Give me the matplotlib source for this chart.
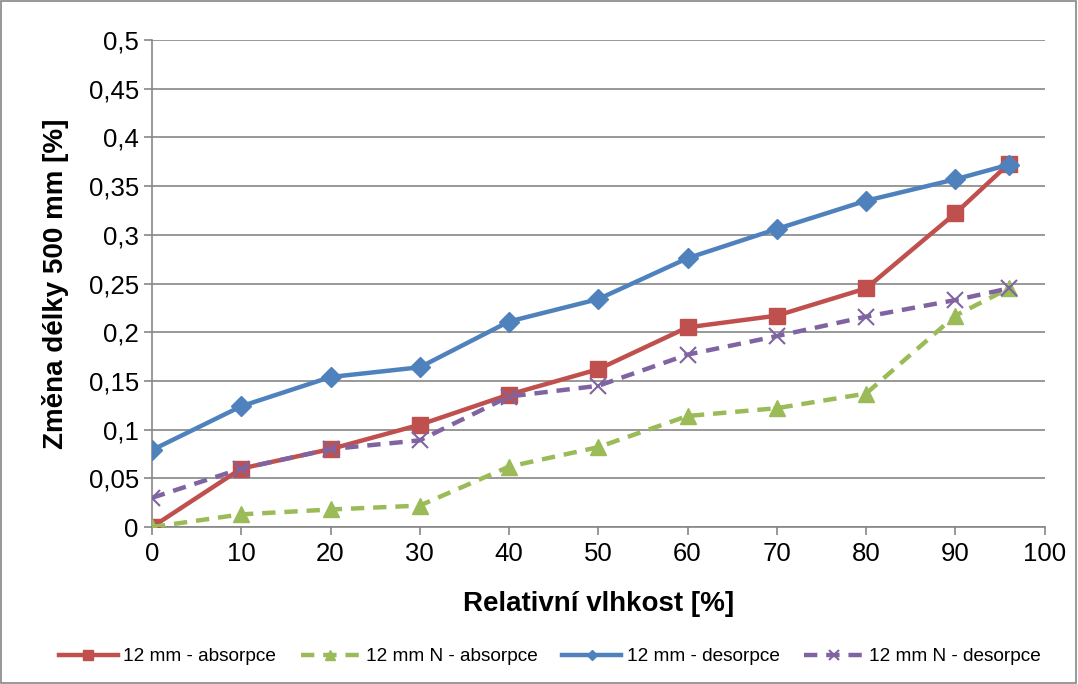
import numpy as np
import matplotlib
matplotlib.use("Agg")
import matplotlib.pyplot as plt
from matplotlib.ticker import FuncFormatter

plt.rcParams['font.family'] = ['Liberation Sans', 'DejaVu Sans']

rh = [0, 10, 20, 30, 40, 50, 60, 70, 80, 90, 96]
abs_12 = [0.0, 0.06, 0.080, 0.105, 0.136, 0.162, 0.205, 0.217, 0.245, 0.322, 0.373]
abs_12n = [0.0, 0.013, 0.018, 0.022, 0.062, 0.082, 0.114, 0.122, 0.137, 0.217, 0.245]
des_12 = [0.079, 0.124, 0.154, 0.164, 0.211, 0.234, 0.276, 0.306, 0.335, 0.357, 0.372]
des_12n = [0.030, 0.060, 0.080, 0.089, 0.134, 0.145, 0.177, 0.196, 0.216, 0.233, 0.245]
names = ["12 mm - absorpce", "12 mm N - absorpce", "12 mm - desorpce", "12 mm N - desorpce"]

fig = plt.figure(figsize=(10.78, 6.84), dpi=100)
ax = fig.add_axes([0.141, 0.2295, 0.828, 0.712])

ax.plot(rh, abs_12, color="#c0504d", lw=3.2, marker="s", ms=12, label=names[0], zorder=3)
ax.plot(rh, abs_12n, color="#9bbb59", lw=3.2, ls=(0, (3, 2)), marker="^", ms=12, label=names[1], zorder=3)
ax.plot(rh, des_12, color="#4f81bd", lw=3.2, marker="D", ms=10, label=names[2], zorder=4)
ax.plot(rh, des_12n, color="#8064a2", lw=3.2, ls=(0, (3, 2)), marker="x", ms=12, mew=1.5, label=names[3], zorder=4)

ax.set_xlim(0, 100)
ax.set_ylim(0, 0.5)
ax.set_xticks(np.arange(0, 101, 10))
ax.set_yticks(np.arange(0, 0.51, 0.05))
ax.yaxis.set_major_formatter(FuncFormatter(lambda v, p: ("%g" % round(v, 2)).replace(".", ",")))
ax.grid(axis="y", color="#868686", lw=1.2)
ax.set_axisbelow(True)
for s in ["top", "right"]:
    ax.spines[s].set_visible(False)
for s in ["left", "bottom"]:
    ax.spines[s].set_color("#868686")
    ax.spines[s].set_linewidth(1.2)
ax.tick_params(axis="both", labelsize=18.5, color="#868686", length=6, width=1.2)
ax.tick_params(axis="x", pad=5)

ax.set_xlabel("Relativní vlhkost [%]", fontsize=20, fontweight="bold", labelpad=18)
ax.set_ylabel("Změna délky 500 mm [%]", fontsize=20, fontweight="bold", labelpad=14)

fig.legend(loc="center", bbox_to_anchor=(0.51, 0.04), ncol=4, frameon=False,
           fontsize=13.7, handlelength=3.1, handletextpad=0.3, columnspacing=1.3, markerscale=0.55)

fig.patches.append(plt.Rectangle((0.001, 0.001), 0.997, 0.997, transform=fig.transFigure,
                                 fill=False, edgecolor="#868686", lw=1.2))

fig.savefig("out.png", dpi=100)
